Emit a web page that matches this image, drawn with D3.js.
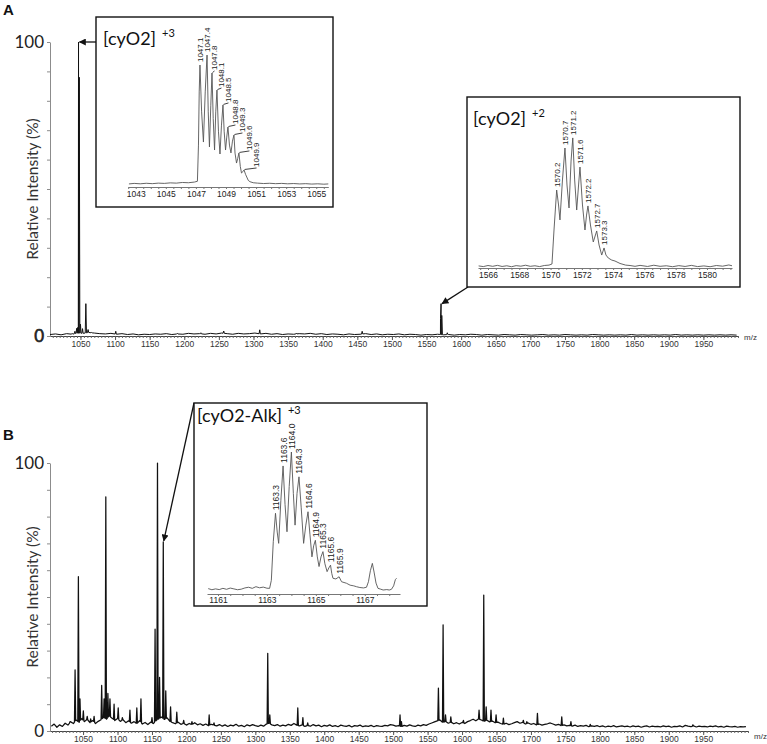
<!DOCTYPE html>
<html><head><meta charset="utf-8">
<script src="https://cdn.jsdelivr.net/npm/d3@7"></script>
<style>body{margin:0;background:#fff}svg{display:block}</style>
</head><body>
<script>
// ---------------- DATA ----------------
const xTickLabels = [1050,1100,1150,1200,1250,1300,1350,1400,1450,1500,1550,1600,1650,1700,1750,1800,1850,1900,1950];
const yTickValues = [0,10,20,30,40,50,60,70,80,90,100];
const yLabelValues = [0,100];

// Panel A: baseline noise (every 8 m/z from 1006) and centroid peaks [m/z, %]
const baseA_start = 1006, baseA_step = 8;
const baseA = [0.5,0.7,0.4,0.8,0.6,1.0,0.9,1.2,1.0,0.8,0.7,0.9,0.6,0.8,0.5,0.7,0.4,0.6,0.5,0.7,
0.6,0.8,0.5,0.7,0.6,0.9,0.7,0.8,0.6,0.9,0.7,1.0,0.8,0.6,0.9,0.7,0.8,1.0,0.7,0.9,
0.6,0.8,0.5,0.7,0.6,0.8,0.7,0.9,0.6,0.8,0.5,0.7,0.6,0.4,0.7,0.5,0.6,0.8,0.5,0.7,
0.4,0.6,0.5,0.7,0.4,0.6,0.5,0.3,0.5,0.4,0.6,0.4,0.5,0.3,0.5,0.4,0.6,0.5,0.3,0.5,
0.4,0.3,0.5,0.4,0.3,0.5,0.4,0.3,0.4,0.5,0.3,0.4,0.3,0.5,0.4,0.3,0.4,0.3,0.5,0.4,
0.3,0.4,0.3,0.4,0.3,0.5,0.3,0.4,0.3,0.4,0.3,0.4,0.3,0.5,0.3,0.4,0.3,0.4,0.3,0.4,
0.3,0.4,0.3,0.4,0.3];
const peaksA = [[1038,0.9],[1042,1.6],[1044.5,2.6],[1046,2.9],[1047.2,100],[1048.3,88],[1050,4],[1053,2.5],
[1057.8,11],[1061,2.2],[1066,1.2],[1101,1.6],[1190,0.9],[1224,1.1],[1257,1.7],[1309,2.1],[1362,1.0],
[1457,1.6],[1570.2,6],[1571,11],[1572,7],[1580,1.1]];

// Panel B
const baseB_start = 1004, baseB_step = 4;
const baseB = [1.8,2.6,1.4,2.3,1.7,2.9,2.2,3.4,2.8,4.1,3.2,4.6,3.5,4.4,3.1,3.9,2.8,3.6,4.2,5.1,
4.4,5.6,4.8,3.9,4.7,3.6,4.2,3.1,3.8,2.9,3.5,2.7,3.9,2.6,3.2,2.4,3.3,2.8,3.9,4.6,
5.2,4.3,4.9,3.6,3.1,2.7,3.3,2.5,2.9,2.2,2.8,2.4,3.1,2.3,2.7,2.1,2.6,2.0,2.5,2.2,
1.9,2.4,1.8,2.3,1.7,2.2,1.9,2.5,1.8,2.1,1.6,2.3,1.9,2.4,2.0,1.7,2.2,1.8,2.6,2.9,
2.3,2.0,2.4,1.8,2.2,1.9,2.5,2.1,2.8,2.2,1.9,2.3,1.7,2.1,1.8,2.4,1.9,2.2,1.6,2.1,
1.8,2.3,1.7,2.0,1.6,2.2,1.9,1.7,2.1,1.5,2.0,1.8,2.2,1.6,1.9,1.7,2.1,1.6,2.0,1.8,
1.7,2.1,1.9,2.4,2.2,1.8,2.0,1.6,2.1,1.8,2.3,1.9,1.7,2.2,1.9,2.4,2.1,2.6,3.0,3.4,
3.8,4.1,3.2,3.6,2.9,3.3,2.7,3.1,2.6,3.2,2.8,3.5,3.9,4.4,3.8,4.5,4.1,3.6,4.0,3.4,
3.7,3.1,3.3,2.8,2.5,2.9,2.4,2.7,3.1,3.5,2.9,3.2,2.6,3.0,2.5,2.8,2.3,2.6,2.2,2.5,
2.7,3.0,2.6,2.2,2.5,2.0,2.3,1.9,2.1,1.8,2.2,1.7,2.0,1.8,2.1,1.6,1.9,1.7,2.0,1.6,
1.9,1.5,1.8,1.6,2.0,1.5,1.7,1.9,1.6,1.8,1.5,1.9,1.6,1.8,1.4,1.7,1.9,1.5,1.8,1.6,
1.7,1.5,1.9,1.6,1.8,1.4,1.7,1.6,1.9,1.5,2.1,1.8,1.6,1.9,1.5,1.8,1.6,1.7,1.5,1.8,
1.6,1.9,1.5,1.7,1.4,1.8,1.6,1.5,1.7,1.4,1.6,1.5,1.6];
const peaksB = [[1031,3.5],[1038.4,22.8],[1043.2,57.6],[1045.5,12],[1050.4,7.5],[1056,5.5],[1061,4.5],[1066,5.5],
[1077,17],[1080.5,12],[1083,87.4],[1086,14],[1089,12],[1095,10],[1101,8.6],[1107,5],[1118,7.8],[1128,8.6],
[1134,12],[1150,5],[1154.5,38],[1158,100],[1161,20],[1166.4,70.6],[1170,15],[1177,9],[1186,7],[1196,4],
[1208,3.5],[1233,6],[1240,3],[1318,29],[1321,6],[1361.6,8.6],[1369,5],[1376,3],[1510,6],[1512,3.5],
[1565.7,16],[1572.5,39.6],[1576,6],[1583.7,5.3],[1602,4],[1624.7,7.8],[1631.5,50.7],[1635,9],[1642,7.8],
[1649.4,6],[1660,4.8],[1689,4],[1694,3.5],[1709.4,6.6],[1744.7,5.3],[1758,3.5],[1786,2.5],[1935,2.3]];

// Inset A1: [cyO2]+3 profile
const insetA1_ticks = [1043,1045,1047,1049,1051,1053,1055];
const insetA1 = [[1042.55,0.8],[1042.9,1.2],[1043.3,0.9],[1043.7,1.3],[1044.1,1.0],[1044.5,1.4],[1044.9,1.2],[1045.3,1.6],
[1045.7,1.4],[1046.1,1.9],[1046.5,1.7],[1046.9,2.2],[1047.1,2.8],[1047.17,30],[1047.22,70],[1047.27,90.2],
[1047.38,55],[1047.5,32.3],[1047.62,70],[1047.74,97.7],[1047.82,55],[1047.9,28.6],[1047.99,60],[1048.07,84.2],
[1048.15,50],[1048.24,26.3],[1048.32,55],[1048.4,71.4],[1048.5,40],[1048.6,23.3],[1048.7,45],[1048.8,60.2],
[1048.88,40],[1048.97,26.3],[1049.05,36],[1049.13,43.6],[1049.23,30],[1049.33,24.1],[1049.43,33],[1049.53,37.6],
[1049.6,24],[1049.7,16.5],[1049.78,20],[1049.86,24.1],[1049.95,14],[1050.03,9],[1050.12,10],[1050.2,11.3],
[1050.3,8],[1050.38,6],[1050.48,3.5],[1050.59,2.5],[1050.81,1.7],[1051.1,1.4],[1051.5,1.1],[1051.9,1.3],
[1052.3,1.0],[1052.7,1.2],[1053.1,0.9],[1053.5,1.1],[1053.9,0.8],[1054.3,1.0],[1054.7,0.7],[1055.1,0.9],
[1055.5,0.6],[1055.8,0.8]];
const insetA1_labels = ["1047.1","1047.4","1047.8","1048.1","1048.5","1048.8","1049.3","1049.6","1049.9"];
const insetA1_labelMz = [1047.27,1047.74,1048.07,1048.4,1048.8,1049.13,1049.53,1049.86,1050.2];

// Inset A2: [cyO2]+2 profile
const insetA2_ticks = [1566,1568,1570,1572,1574,1576,1578,1580];
const insetA2 = [[1565.4,0.8],[1565.7,0.3],[1566.0,1.1],[1566.3,0.5],[1566.6,1.2],[1566.9,0.4],[1567.2,0.9],
[1567.5,0.2],[1567.8,1.0],[1568.1,0.6],[1568.4,1.3],[1568.7,0.5],[1569.0,0.9],[1569.3,0.3],[1569.6,1.1],
[1569.9,1.4],[1570.09,2.2],[1570.22,27.2],[1570.39,56.6],[1570.51,45.6],[1570.6,34.6],[1570.76,64],
[1570.92,87.5],[1571.05,60.3],[1571.18,43.4],[1571.31,77.9],[1571.42,94.9],[1571.54,64],[1571.67,41.9],
[1571.79,60.3],[1571.88,73.5],[1572.04,45.6],[1572.2,27.2],[1572.3,38.2],[1572.39,44.9],[1572.55,30.9],
[1572.73,18.4],[1572.95,26.5],[1573.1,16.2],[1573.27,8.8],[1573.42,14],[1573.54,8.8],[1573.69,6.6],
[1573.91,5.1],[1574.12,4.4],[1574.44,2.6],[1574.8,1.4],[1575.08,1.1],[1575.4,0.5],[1575.72,1.2],
[1576.2,0.4],[1576.6,1.3],[1577.0,0.5],[1577.4,0.9],[1577.8,0.2],[1578.2,1.0],[1578.6,0.4],[1579.0,1.2],
[1579.4,0.3],[1579.8,0.8],[1580.2,0.2],[1580.6,1.1],[1581.0,0.6],[1581.4,1.5],[1581.6,0.9]];
const insetA2_labels = ["1570.2","1570.7","1571.2","1571.6","1572.2","1572.7","1573.3"];
const insetA2_labelMz = [1570.39,1570.92,1571.42,1571.88,1572.39,1572.95,1573.42];

// Inset B: [cyO2-Alk]+3 profile
const insetB_ticks = [1161,1163,1165,1167];
const insetB = [[1160.6,1.0],[1160.75,0.2],[1160.9,0.8],[1161.05,0.3],[1161.2,1.2],[1161.35,0.5],[1161.5,1.4],
[1161.65,0.8],[1161.8,0.2],[1161.95,0.6],[1162.1,1.5],[1162.25,2.0],[1162.4,1.2],[1162.55,2.4],[1162.7,1.6],
[1162.85,2.1],[1163.0,1.3],[1163.11,1.2],[1163.18,7],[1163.26,35],[1163.35,55.6],[1163.42,42],[1163.48,33.8],
[1163.57,65],[1163.66,89.9],[1163.74,62],[1163.82,42.2],[1163.91,75],[1164.0,100],[1164.08,70],[1164.15,47],
[1164.23,70],[1164.31,82],[1164.4,60],[1164.5,33.8],[1164.59,47],[1164.68,56.7],[1164.76,40],[1164.84,24],
[1164.91,32],[1164.98,36],[1165.06,24],[1165.13,17],[1165.21,24],[1165.29,27.8],[1165.37,19],[1165.46,13.3],
[1165.53,16],[1165.6,18],[1165.65,12],[1165.7,8.5],[1165.82,8],[1165.95,9.6],[1166.05,6],[1166.25,4.9],
[1166.4,3.5],[1166.55,3.0],[1166.66,2.4],[1166.8,1.8],[1166.95,1.5],[1167.07,2.0],[1167.15,6],[1167.23,14],
[1167.31,19.3],[1167.38,13],[1167.46,5],[1167.54,1.2],[1167.65,0.6],[1167.75,0],[1167.9,0.3],[1168.0,0],
[1168.09,0.5],[1168.18,3],[1168.25,7.5],[1168.3,8.5]];
const insetB_labels = ["1163.3","1163.6","1164.0","1164.3","1164.6","1164.9","1165.3","1165.6","1165.9"];
const insetB_labelMz = [1163.35,1163.66,1164.0,1164.31,1164.68,1164.98,1165.29,1165.6,1165.95];

// ---------------- RENDER ----------------
const W = 767, H = 744;
const svg = d3.select("body").append("svg").attr("width", W).attr("height", H);
const FONT_MAIN = "Lato, 'Open Sans', sans-serif";
const FONT_TICK = "'Liberation Sans Narrow', 'Liberation Sans', Arial, sans-serif";
const fmtInt = d3.format("d");

svg.append("defs").append("marker").attr("id","arrow").attr("viewBox","0 0 10 10")
  .attr("refX",9).attr("refY",5).attr("markerWidth",9).attr("markerHeight",7)
  .attr("markerUnits","userSpaceOnUse").attr("orient","auto")
  .append("path").attr("d","M0,0 L10,5 L0,10 z").attr("fill","#111");

function buildProfile(start, step, base, peaks, w) {
  const baseAt = m => {
    const f = (m - start) / step;
    const i0 = Math.max(0, Math.min(base.length - 1, Math.floor(f)));
    const i1 = Math.min(base.length - 1, i0 + 1);
    const t = Math.max(0, Math.min(1, f - i0));
    return base[i0] * (1 - t) + base[i1] * t;
  };
  const pts = base.map((v, i) => [start + i * step, v])
    .filter(p => !peaks.some(pk => Math.abs(p[0] - pk[0]) < w));
  peaks.forEach(pk => {
    pts.push([pk[0] - w, baseAt(pk[0] - w)]);
    pts.push([pk[0], pk[1]]);
    pts.push([pk[0] + w, baseAt(pk[0] + w)]);
  });
  pts.sort((a, b) => a[0] - b[0]);
  return pts;
}

function mainPanel(o) {
  const x = d3.scaleLinear().domain(o.xDomain).range([o.x0, o.x1]);
  const y = d3.scaleLinear().domain([0, 100]).range([o.y0, o.y1]);
  const g = svg.append("g");
  g.append("text").attr("x", 3).attr("y", o.letterY).text(o.letter)
    .attr("font-family", "Arial, 'Liberation Sans', sans-serif").attr("font-weight", "bold")
    .attr("font-size", 15).attr("fill", "#111");
  g.append("g").attr("transform", `translate(${o.x0},0)`)
    .call(d3.axisLeft(y).tickValues(yTickValues).tickSize(3).tickSizeOuter(0).tickFormat(""))
    .call(s => { s.select(".domain").attr("stroke", "#8c8c8c"); s.selectAll("line").attr("stroke", "#8c8c8c"); });
  g.selectAll(".ylab").data(yLabelValues).enter().append("text")
    .attr("x", o.x0 - 6).attr("y", d => y(d)).attr("dy", "0.36em").attr("text-anchor", "end")
    .attr("font-family", FONT_MAIN).attr("font-size", 17).attr("fill", "#222")
    .attr("stroke", d => d === 0 ? o.zeroStroke : "none").attr("stroke-width", 0.6)
    .text(d => d);
  g.append("text").attr("transform", `translate(${o.ylabX},${(o.y0 + o.y1) / 2}) rotate(-90)`)
    .attr("text-anchor", "middle").attr("font-family", FONT_MAIN).attr("font-size", 15.5)
    .attr("fill", "#333").text("Relative Intensity (%)");
  const minor = d3.range(Math.ceil(o.xDomain[0] / 5) * 5, o.xDomain[1] + 0.1, 5);
  g.append("g").attr("transform", `translate(0,${o.y0})`)
    .call(d3.axisBottom(x).tickValues(minor).tickSize(2).tickSizeOuter(0).tickFormat(""))
    .call(s => { s.select(".domain").attr("stroke", "#444"); s.selectAll("line").attr("stroke", "#666"); });
  g.append("g").attr("transform", `translate(0,${o.y0})`)
    .call(d3.axisBottom(x).tickValues(xTickLabels).tickSize(4).tickSizeOuter(0).tickPadding(1).tickFormat(fmtInt))
    .call(s => {
      s.select(".domain").remove();
      s.selectAll("line").attr("stroke", "#555");
      s.selectAll("text").attr("font-family", FONT_TICK).attr("font-size", 8.5).attr("fill", "#333");
    });
  g.append("text").attr("x", o.x1 + 6).attr("y", o.y0 + o.mzDy).text("m/z")
    .attr("font-family", FONT_TICK).attr("font-size", 8).attr("fill", "#333");
  const data = buildProfile(o.baseStart, o.baseStep, o.base, o.peaks, 0.9);
  const line = d3.line().x(d => x(d[0])).y(d => y(d[1]));
  g.append("path").datum(data.filter(d => d[0] >= o.xDomain[0] && d[0] <= o.xDomain[1]))
    .attr("d", line).attr("fill", "none").attr("stroke", "#111").attr("stroke-width", o.lineW)
    .attr("stroke-linejoin", "round");
  return { x, y, g };
}

function inset(o) {
  const g = svg.append("g");
  g.append("rect").attr("x", o.bx).attr("y", o.by).attr("width", o.bw).attr("height", o.bh)
    .attr("fill", "#fff").attr("stroke", "#111").attr("stroke-width", 1.4);
  const x = d3.scaleLinear().domain(o.xDomain).range(o.xRange);
  const y = d3.scaleLinear().domain([0, 100]).range([o.y0, o.y100]);
  const ticks1 = d3.range(Math.ceil(o.xDomain[0] * 2) / 2, o.xDomain[1], 0.5);
  g.append("g").attr("transform", `translate(0,${o.axisY})`)
    .call(d3.axisBottom(x).tickValues(ticks1).tickSize(2).tickSizeOuter(0).tickFormat(""))
    .call(s => { s.select(".domain").attr("stroke", "#777"); s.selectAll("line").attr("stroke", "#777"); });
  g.append("g").attr("transform", `translate(0,${o.axisY})`)
    .call(d3.axisBottom(x).tickValues(o.ticks).tickSize(0).tickPadding(o.tickPad).tickFormat(fmtInt))
    .call(s => {
      s.select(".domain").remove();
      s.selectAll("text").attr("font-family", FONT_TICK).attr("font-size", 8.5).attr("fill", "#222");
    });
  const line = d3.line().x(d => x(d[0])).y(d => y(d[1]));
  g.append("path").datum(o.data).attr("d", line).attr("fill", "none")
    .attr("stroke", "#555").attr("stroke-width", 0.9).attr("stroke-linejoin", "round");
  const fs = o.labelFont, bw = fs * 0.78;
  const placed = [];
  o.labels.forEach((t, i) => {
    const m = o.labelMz[i];
    let best = o.data[0];
    o.data.forEach(d => { if (Math.abs(d[0] - m) < Math.abs(best[0] - m)) best = d; });
    const px = x(best[0]), py = y(best[1]);
    const len = t.length * fs * 0.51;
    let lx = px + 0.5;
    const bottom = py - 3, top = bottom - len;
    while (placed.some(p => lx + bw / 2 > p.x0 && lx - bw / 2 < p.x1 && bottom > p.top && top < p.bottom)) lx += 1;
    placed.push({ x0: lx - bw / 2, x1: lx + bw / 2, top, bottom });
    if (lx - px > 2) {
      g.append("line").attr("x1", px + 0.5).attr("y1", py - 0.5).attr("x2", lx).attr("y2", bottom + 1)
        .attr("stroke", "#111").attr("stroke-width", 0.8);
    }
    g.append("text").attr("transform", `translate(${lx},${bottom}) rotate(-90)`)
      .attr("dy", "0.35em").attr("font-family", FONT_TICK).attr("font-size", fs).attr("fill", "#222").text(t);
  });
  const tt = g.append("text").attr("x", o.tx).attr("y", o.ty).attr("font-family", FONT_MAIN)
    .attr("font-size", 18).attr("fill", "#111").text(o.title);
  const tw = tt.node().getComputedTextLength();
  g.append("text").attr("x", o.tx + tw + 6).attr("y", o.ty - 8).attr("font-family", FONT_MAIN)
    .attr("font-size", 11).attr("fill", "#111").text(o.sup);
  return g;
}

function arrow(x1, y1, x2, y2) {
  svg.append("line").attr("x1", x1).attr("y1", y1).attr("x2", x2).attr("y2", y2)
    .attr("stroke", "#111").attr("stroke-width", 1.3).attr("marker-end", "url(#arrow)");
}

const A = mainPanel({
  letter: "A", letterY: 15, xDomain: [1006, 2000], x0: 50, x1: 738, y0: 336, y1: 42,
  ylabX: 38, mzDy: 4, zeroStroke: "#222", lineW: 1,
  baseStart: baseA_start, baseStep: baseA_step, base: baseA, peaks: peaksA
});
const B = mainPanel({
  letter: "B", letterY: 440, xDomain: [1002, 2015], x0: 50, x1: 748, y0: 731, y1: 463,
  ylabX: 38, mzDy: 8, zeroStroke: "none", lineW: 1.25,
  baseStart: baseB_start, baseStep: baseB_step, base: baseB, peaks: peaksB
});

const pkA1 = peaksA[4], pkA2 = peaksA[19], pkB = peaksB[23];
arrow(97, A.y(pkA1[1]), A.x(pkA1[0]) + 1, A.y(pkA1[1]));
arrow(468, 287, A.x(pkA2[0]) + 1, A.y(pkA2[1]));
arrow(194, 403, B.x(pkB[0]) + 0.5, B.y(pkB[1]) - 1);

inset({ bx: 96, by: 17, bw: 237, bh: 190, xDomain: [1042.5, 1055.8], xRange: [128.2, 328.3],
  y0: 185, y100: 52, axisY: 187, tickPad: 4, ticks: insetA1_ticks, data: insetA1,
  labels: insetA1_labels, labelMz: insetA1_labelMz, labelFont: 8,
  tx: 103, ty: 45, title: "[cyO2]", sup: "+3" });
inset({ bx: 467, by: 97, bw: 273, bh: 190, xDomain: [1565.36, 1581.6], xRange: [478, 732],
  y0: 267, y100: 131, axisY: 268, tickPad: 4, ticks: insetA2_ticks, data: insetA2,
  labels: insetA2_labels, labelMz: insetA2_labelMz, labelFont: 8,
  tx: 473, ty: 125, title: "[cyO2]", sup: "+2" });
inset({ bx: 194, by: 403, bw: 233, bh: 203, xDomain: [1160.55, 1168.44], xRange: [207, 400],
  y0: 590, y100: 452, axisY: 594, tickPad: 3, ticks: insetB_ticks, data: insetB,
  labels: insetB_labels, labelMz: insetB_labelMz, labelFont: 8.5,
  tx: 197, ty: 422, title: "[cyO2-Alk]", sup: "+3" });
</script>
</body></html>
